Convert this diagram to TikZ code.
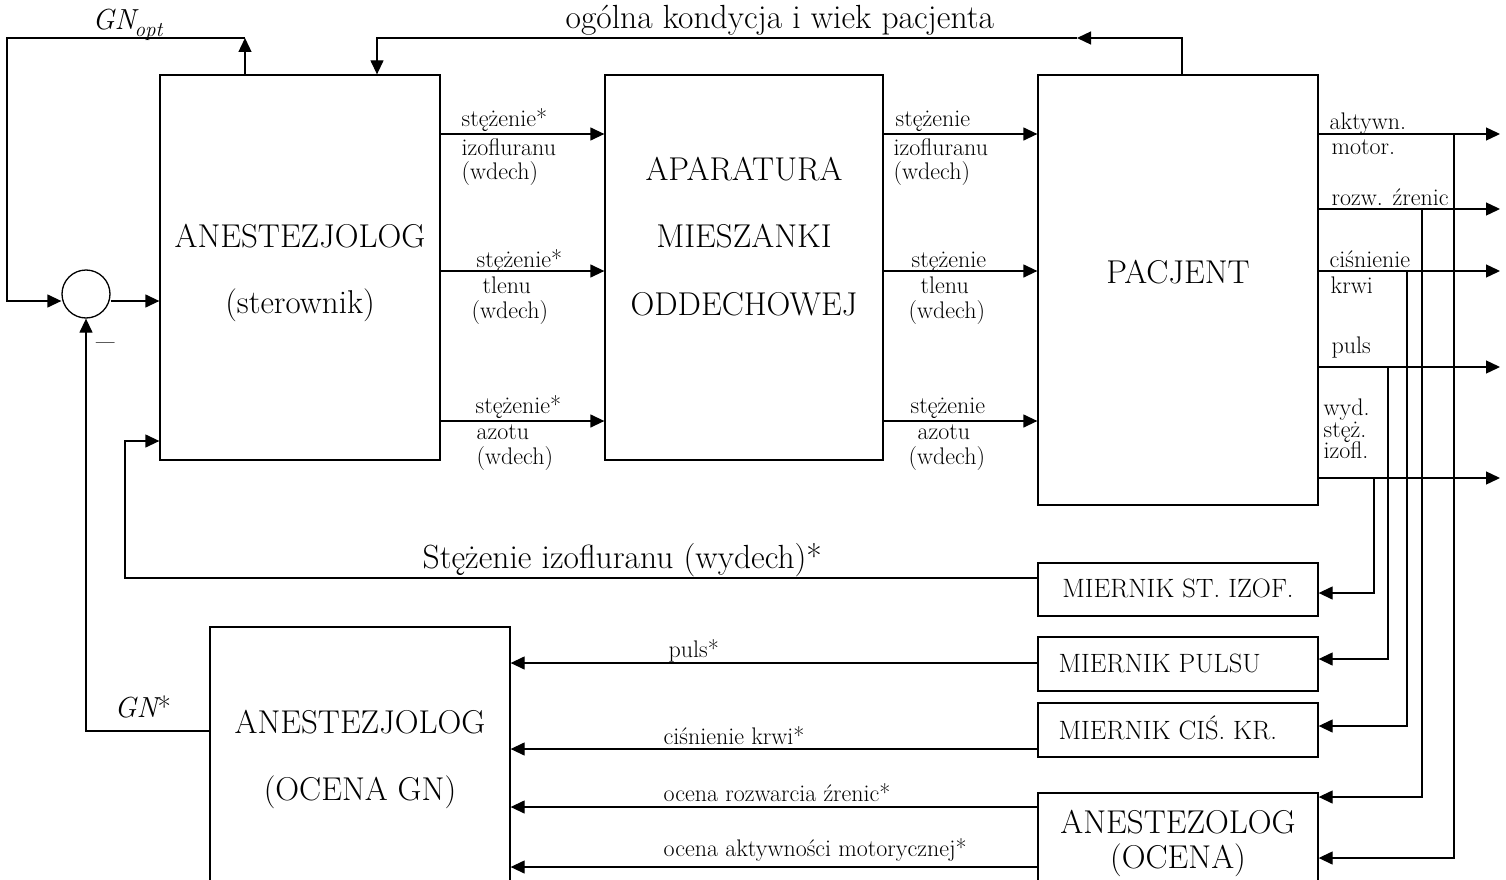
\documentclass[tikz,border=0pt]{standalone}
\usepackage{fontspec}
\usetikzlibrary{arrows.meta}
\begin{document}
\begin{tikzpicture}[x=1pt,y=-1pt,line width=1.3pt,
  box/.style={draw,rectangle,inner sep=0pt,line width=1.3pt},
  arr/.style={-{Triangle[length=14pt,width=13pt]}},
  big/.style={font=\fontsize{33}{38}\selectfont,inner sep=0pt,anchor=base},
  bigl/.style={font=\fontsize{33.5}{38}\selectfont,inner sep=0pt,anchor=base west},
  meas/.style={font=\fontsize{26.5}{31}\selectfont,inner sep=0pt,anchor=base},
  lbl/.style={font=\fontsize{24}{28}\selectfont,inner sep=0pt,anchor=base west},
]
\useasboundingbox (0,0) rectangle (1506,880);

% boxes
\node[box,minimum width=280pt,minimum height=385pt] (b1) at (300,267.5) {};
\node[box,minimum width=278pt,minimum height=385pt] (b2) at (744,267.5) {};
\node[box,minimum width=280pt,minimum height=430pt] (b3) at (1178,290) {};
\node[box,minimum width=280pt,minimum height=53pt] (m1) at (1178,589.5) {};
\node[box,minimum width=280pt,minimum height=54pt] (m2) at (1178,664) {};
\node[box,minimum width=280pt,minimum height=54pt] (m3) at (1178,730) {};
\node[box,minimum width=280pt,minimum height=110pt] (m4) at (1178,848) {};
\node[box,minimum width=300pt,minimum height=280pt] (b4) at (360,767) {};
\node[circle,draw,inner sep=0pt,minimum size=48pt] (sum) at (86,294) {};

% box texts
\node[big] (t1a) at (300,247) {ANESTEZJOLOG};
\node[big] (t1b) at (300,313) {(sterownik)};
\node[big] (t2a) at (744,180) {APARATURA};
\node[big] (t2b) at (744,247) {MIESZANKI};
\node[big] (t2c) at (744,315) {ODDECHOWEJ};
\node[big] (t3) at (1178,283) {PACJENT};
\node[big] (t4a) at (360,733) {ANESTEZJOLOG};
\node[big] (t4b) at (360,800) {(OCENA GN)};
\node[big] (t5a) at (1178,833) {ANESTEZOLOG};
\node[big] (t5b) at (1178,868) {(OCENA)};
\node[meas] (tm1) at (1178,597) {MIERNIK ST. IZOF.};
\node[meas,anchor=base west] (tm2) at (1058,672) {MIERNIK PULSU};
\node[meas,anchor=base west] (tm3) at (1058,739) {MIERNIK CIŚ. KR.};

% labels between boxes
\node[lbl] (l1) at (461,127) {stężenie*};
\node[lbl] (l2) at (461,155) {izofluranu};
\node[lbl] (l3) at (461,179) {(wdech)};
\node[lbl] (l4) at (476,267) {stężenie*};
\node[lbl] (l5) at (482,293) {tlenu};
\node[lbl] (l6) at (471,318) {(wdech)};
\node[lbl] (l7) at (475,413) {stężenie*};
\node[lbl] (l8) at (476,439) {azotu};
\node[lbl] (l9) at (476,464) {(wdech)};
\node[lbl] (r1) at (895,127) {stężenie};
\node[lbl] (r2) at (893,155) {izofluranu};
\node[lbl] (r3) at (893,179) {(wdech)};
\node[lbl] (r4) at (911,267) {stężenie};
\node[lbl] (r5) at (920,293) {tlenu};
\node[lbl] (r6) at (908,318) {(wdech)};
\node[lbl] (r7) at (910,413) {stężenie};
\node[lbl] (r8) at (917,439) {azotu};
\node[lbl] (r9) at (908,464) {(wdech)};

% output labels
\node[lbl] (o1) at (1329,129) {aktywn.};
\node[lbl] (o2) at (1331,154) {motor.};
\node[lbl] (o3) at (1331,205) {rozw. źrenic};
\node[lbl] (o4) at (1329,267) {ciśnienie};
\node[lbl] (o5) at (1330,293) {krwi};
\node[lbl] (o6) at (1331,353) {puls};
\node[lbl] (o7) at (1323,415) {wyd.};
\node[lbl] (o8) at (1323,437) {stęż.};
\node[lbl] (o9) at (1323,458) {izofl.};

% bottom labels
\node[lbl] (p1) at (668,657) {puls*};
\node[lbl] (p2) at (663,744) {ciśnienie krwi*};
\node[lbl] (p3) at (663,801) {ocena rozwarcia źrenic*};
\node[lbl] (p4) at (663,856) {ocena aktywności motorycznej*};

\node[bigl] (s1) at (422,568) {Stężenie izofluranu (wydech)*};
\node[bigl] (s2) at (565,29) {ogólna kondycja i wiek pacjenta};
\node[font=\fontsize{29}{33}\selectfont,inner sep=0pt,anchor=base west] (gopt) at (92,30)
  {\itshape GN\kern-1pt\raisebox{-0.22em}{\fontsize{21}{22}\selectfont\itshape opt}};
\node[font=\fontsize{29}{33}\selectfont,inner sep=0pt,anchor=base west] (gstar) at (114,717)
  {{\itshape GN}*};
\node[font=\fontsize{40}{44}\selectfont,inner sep=0pt] (minus) at (106,348) {\textendash};

% coordinates
\coordinate (gtop) at (245,38);
\coordinate (gl) at (7,38);
\coordinate (kx) at (1182,38);
\coordinate (kmid) at (1077,38);
\coordinate (kl) at (377,38);
\coordinate (fb) at (125,441);

% GN_opt loop
\draw[arr] (b1.north -| gtop) -- (gtop);
\draw[arr] (gtop) -- (gl) |- (sum.west |- 0,301);
\draw[arr] (sum.east |- 0,301) -- (b1.west |- 0,301);

% top feedback
\draw[arr] (b3.north -| kx) -- (kx) -- (kmid);
\draw[arr] (kmid) -- (kl) -- (b1.north -| kl);

% flows
\foreach \y in {134,271,421} {
  \draw[arr] (b1.east |- 0,\y) -- (b2.west |- 0,\y);
  \draw[arr] (b2.east |- 0,\y) -- (b3.west |- 0,\y);
}
\foreach \y in {134,209,271,367,478} {
  \coordinate (out\y) at (1500,\y);
  \draw[arr] (b3.east |- out\y) -- (out\y);
}

% taps
\draw[arr] (1454,134) |- (m4.east |- 0,858);
\draw[arr] (1422,209) |- (m4.east |- 0,797);
\draw[arr] (1407,271) |- (m3.east |- 0,726);
\draw[arr] (1388,367) |- (m2.east |- 0,659);
\draw[arr] (1374,478) |- (m1.east |- 0,593);

% returns
\draw[arr] (m1.west |- 0,578) -| (fb) -- (b1.west |- fb);
\draw[arr] (m2.west |- 0,663) -- (b4.east |- 0,663);
\draw[arr] (m3.west |- 0,749) -- (b4.east |- 0,749);
\draw[arr] (m4.west |- 0,807) -- (b4.east |- 0,807);
\draw[arr] (m4.west |- 0,867) -- (b4.east |- 0,867);
\draw[arr] (b4.west |- 0,731) -| (sum.south);
\end{tikzpicture}
\end{document}
